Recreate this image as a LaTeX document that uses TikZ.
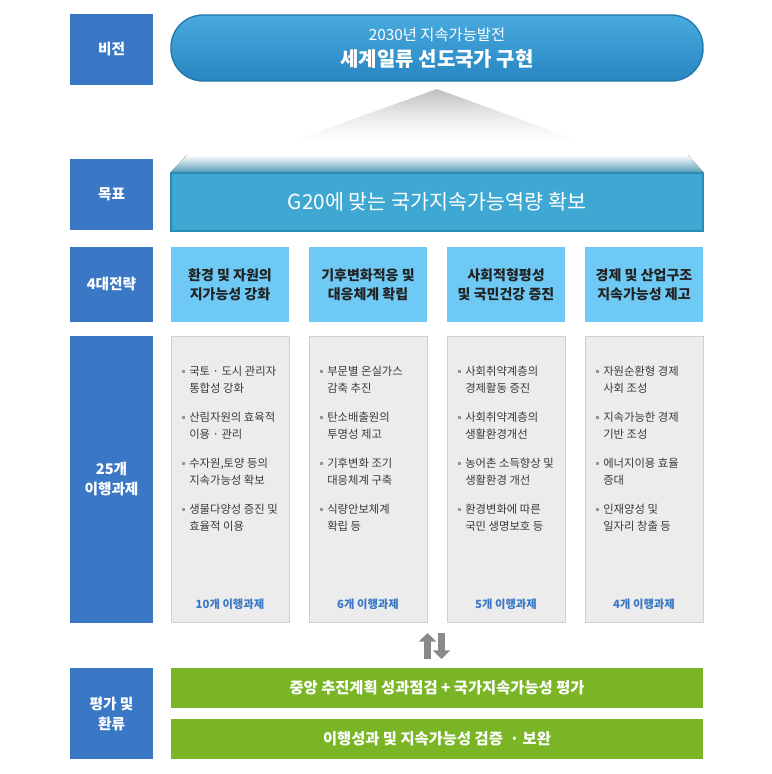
\documentclass[tikz,border=0pt]{standalone}
\usepackage{fontspec}
\setmainfont{Noto Sans CJK KR}
\usepackage{tikz}
\definecolor{tagblue}{RGB}{58,120,198}
\definecolor{visiontop}{RGB}{72,170,222}
\definecolor{visionbottom}{RGB}{40,134,194}
\definecolor{visionline}{RGB}{36,118,172}
\definecolor{goalfront}{RGB}{62,168,210}
\definecolor{goalline}{RGB}{42,140,180}
\definecolor{goaltop}{RGB}{92,158,184}
\definecolor{aimblue}{RGB}{110,202,245}
\definecolor{taskgray}{RGB}{236,236,236}
\definecolor{taskline}{RGB}{208,208,208}
\definecolor{tasktext}{RGB}{58,58,58}
\definecolor{dotgray}{RGB}{150,150,150}
\definecolor{bargreen}{RGB}{122,181,38}
\definecolor{arrowgray}{RGB}{138,138,138}
\definecolor{textdark}{RGB}{34,34,34}
\usetikzlibrary{arrows.meta, calc}

\newcommand{\taskitem}[2]{\makebox[5.25pt][l]{\raisebox{2.2pt}{\textcolor{dotgray}{\rule{2.2pt}{2.2pt}}}}#1\\\hspace*{5.25pt}#2}

\begin{document}
\begin{tikzpicture}[x=0.75pt, y=-0.75pt,
    tag/.style={fill=tagblue, text=white, font=\bfseries\fontsize{11}{15}\selectfont,
                minimum width=62.25pt, minimum height=#1, inner sep=0pt, align=center},
    vision/.style={top color=visiontop, bottom color=visionbottom, draw=visionline, line width=1pt,
                   rounded corners=24pt, minimum width=399pt, minimum height=49.5pt,
                   text=white, inner sep=0pt, align=center},
    goal/.style={fill=goalfront, draw=goalline, line width=0.8pt, text=white,
                 font=\fontsize{15.5}{18}\selectfont, minimum width=399pt, minimum height=43.5pt, inner sep=0pt},
    aim/.style={fill=aimblue, text=textdark, font=\bfseries\fontsize{10.5}{14}\selectfont,
                minimum width=88.5pt, minimum height=56.25pt, inner sep=0pt, align=center},
    taskbox/.style={fill=taskgray, draw=taskline, line width=0.6pt,
                    minimum width=88.5pt, minimum height=214.5pt, inner sep=0pt},
    tasklist/.style={anchor=north west, inner sep=0pt, align=left, text=tasktext,
                     font=\fontsize{8.5}{12.5}\selectfont},
    count/.style={text=tagblue, font=\bfseries\fontsize{8.5}{10}\selectfont, inner sep=0pt},
    bar/.style={fill=bargreen, text=white, font=\bfseries\fontsize{11.5}{14}\selectfont,
                minimum width=399pt, minimum height=30pt, inner sep=0pt},
    feedback/.style={line width=5.25pt, arrowgray, -{Triangle[width=12.75pt, length=6.5pt]}}
]
    \useasboundingbox[fill=white] (0,0) rectangle (771,774);

    % left column
    \node[tag=53.25pt] (vtag) at (111.5,49.5) {비전};
    \node[tag=53.25pt] (gtag) at (111.5,194.5) {목표};
    \node[tag=56.25pt] (stag) at (111.5,284.5) {4대전략};
    \node[tag=215.25pt] (ttag) at (111.5,479.5) {25개\\이행과제};
    \node[tag=68.25pt] (etag) at (111.5,713.5) {평가 및\\환류};

    % vision and goal
    \node[vision, font=\fontsize{11.5}{19}\selectfont] (vision) at (437,48) {
        2030년 지속가능발전\\
        {\bfseries\fontsize{15}{19}\selectfont 세계일류 선도국가 구현}
    };
    \shade[top color=gray!50, bottom color=white, middle color=gray!18] (437,89) -- (574,139) -- (298,139) -- cycle;
    \fill[top color=white, bottom color=goaltop] (187,155) -- (688,155) -- (703,172) -- (171,172) -- cycle;
    \node[goal] (goal) at (437,202) {G20에 맞는 국가지속가능역량 확보};

    % strategies
    \node[aim] (s1) at (230,284.5) {환경 및 자원의\\지가능성 강화};
    \node[aim] (s2) at (368,284.5) {기후변화적응 및\\대응체계 확립};
    \node[aim] (s3) at (506,284.5) {사회적형평성\\및 국민건강 증진};
    \node[aim] (s4) at (644,284.5) {경제 및 산업구조\\지속가능성 제고};

    % tasks
    \node[taskbox] (t1) at (230,479) {};
    \node[taskbox] (t2) at (368,479) {};
    \node[taskbox] (t3) at (506,479) {};
    \node[taskbox] (t4) at (644,479) {};

    \node[tasklist] (l1) at (182,366) {
        \taskitem{국토 · 도시 관리자}{통합성 강화}\\[9.5pt]
        \taskitem{산림자원의 효육적}{이용 · 관리}\\[9.5pt]
        \taskitem{수자원,토양 등의}{지속가능성 확보}\\[9.5pt]
        \taskitem{생물다양성 증진 및}{효율적 이용}
    };
    \node[tasklist] (l2) at (320,366) {
        \taskitem{부문별 온실가스}{감축 추진}\\[9.5pt]
        \taskitem{탄소배출원의}{투명성 제고}\\[9.5pt]
        \taskitem{기후변화 조기}{대응체계 구축}\\[9.5pt]
        \taskitem{식량안보체계}{확립 등}
    };
    \node[tasklist] (l3) at (458,366) {
        \taskitem{사회취약계층의}{경제활동 증진}\\[9.5pt]
        \taskitem{사회취약계층의}{생활환경개선}\\[9.5pt]
        \taskitem{농어촌 소득향상 및}{생활환경 개선}\\[9.5pt]
        \taskitem{환경변화에 따른}{국민 생명보호 등}
    };
    \node[tasklist] (l4) at (596,366) {
        \taskitem{자원순환형 경제}{사회 조성}\\[9.5pt]
        \taskitem{지속가능한 경제}{기반 조성}\\[9.5pt]
        \taskitem{에너지이용 효율}{증대}\\[9.5pt]
        \taskitem{인재양성 및}{일자리 창출 등}
    };

    \node[count] (c1) at (230,604) {10개 이행과제};
    \node[count] (c2) at (368,604) {6개 이행과제};
    \node[count] (c3) at (506,604) {5개 이행과제};
    \node[count] (c4) at (644,604) {4개 이행과제};

    % feedback
    \coordinate (upfoot) at (427.5,659);
    \coordinate (uptip) at (427.5,633);
    \coordinate (downfoot) at (441.5,633);
    \coordinate (downtip) at (441.5,659);
    \draw[feedback] (upfoot) -- (uptip);
    \draw[feedback] (downfoot) -- (downtip);

    \node[bar] (e1) at (437,688) {중앙 추진계획 성과점검 + 국가지속가능성 평가};
    \node[bar] (e2) at (437,739) {이행성과 및 지속가능성 검증 \ · 보완};
\end{tikzpicture}
\end{document}
